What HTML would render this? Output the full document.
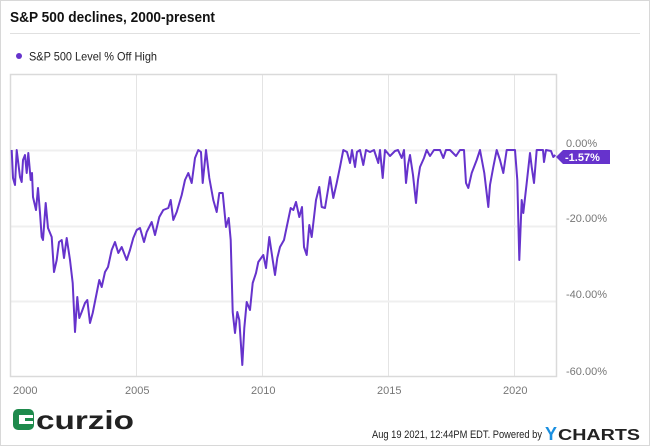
<!DOCTYPE html>
<html><head><meta charset="utf-8"><style>
body{margin:0;background:#fff;}
.w{position:relative;width:648px;height:444px;border:1px solid #d8d8d8;font-family:"Liberation Sans",sans-serif;overflow:hidden;}
</style></head><body><div class="w">
<svg width="650" height="446" viewBox="0 0 650 446" style="position:absolute;left:-1px;top:-1px">
<text x="10" y="22" font-size="15" font-weight="bold" fill="#111" textLength="205" lengthAdjust="spacingAndGlyphs">S&amp;P 500 declines, 2000-present</text>
<line x1="10" y1="33.5" x2="640" y2="33.5" stroke="#e0e0e0"/>
<circle cx="19" cy="56" r="3" fill="#6633cc"/>
<text x="29" y="60.5" font-size="12" fill="#222" textLength="128" lengthAdjust="spacingAndGlyphs">S&amp;P 500 Level % Off High</text>
<g stroke="#e4e4e4" stroke-width="1">
<line x1="136.5" y1="74" x2="136.5" y2="376"/><line x1="262.5" y1="74" x2="262.5" y2="376"/>
<line x1="388.5" y1="74" x2="388.5" y2="376"/><line x1="514.5" y1="74" x2="514.5" y2="376"/>
</g>
<g stroke="#efefef" stroke-width="2">
<line x1="10" y1="150.5" x2="556" y2="150.5"/><line x1="10" y1="226.5" x2="556" y2="226.5"/><line x1="10" y1="301.5" x2="556" y2="301.5"/>
</g>
<rect x="10.5" y="74.5" width="546" height="302" fill="none" stroke="#dadada" stroke-width="1.5"/>
<polyline fill="none" stroke="#6633cc" stroke-width="2" stroke-linejoin="round" points="11.7,150 13,178 15,185 16.7,150 20,177 21.7,182 23,160 25,155 26.7,173 28.3,153 30.7,180 32,173 33,197 36,210 38,188 40,213 41.7,237 43,240 45.7,203 48,228 51.7,237 54,272 56.7,260 59,242 61.7,240 64,258 66.7,238 70,260 72.7,283 75,332 77.3,297 79.3,318 81.7,312 85,303 87.3,300 90,323 92.7,313 96.7,293 99.3,280 101.7,287 105,272 108,267 111.7,250 115,242 118.3,253 121.7,247 126.7,260 130,250 133.3,238 136.7,230 140,228 144,242 146.7,232 151.7,222 155,235 159.3,217 163.3,210 168.3,208 170.7,200 173.3,220 176.7,212 181.7,195 185,180 188.3,173 191.7,183 195,158 198.3,150 201,152 202.7,183 206,150 209.3,178 213.3,200 216.7,212 219.3,193 222.7,193 226,227 228.7,218 230.7,240 232.7,312 235,333 237.3,312 239.3,320 242.3,365 244.3,328 246.7,302 250,310 252.7,283 256,273 258.3,262 263.3,255 266,268 269.3,237 272.7,260 275,275 277.3,258 280,247 284,240 286.7,227 290.7,208 293.3,210 296,202 299.3,217 302,207 304,247 306.7,255 309.3,225 311.7,237 316,200 319.3,187 321.7,207 325,208 328.3,188 330,177 333.3,198 336.7,183 340,167 343.3,150 347,152 350,163 352,150 355,167 357,152 360,150 363.3,165 366,150 370,152 374,150 378.3,163 380,150 382.7,178 385,150 390,156 395,151 398,150 401.7,158 404,150 406,183 408,165 410,155 413,175 416,203 418,180 420,167 424,158 426.7,150 430,156 434,150 440,150 443.3,158 446,150 450,150 456,156 460,150 464,150 466,183 468.3,188 471.7,173 476.7,160 480,150 484.3,173 488.3,207 490,185 493.3,167 496.7,150 500,160 503.3,173 506.7,150 515,150 517.3,180 519.3,260 521.7,200 523.3,213 526.7,183 530,153 531.7,167 534,183 536.7,150 543,150 544,162 546,150 551,151 553.3,157 555.3,155"/>
<text x="566" y="147" font-size="11" fill="#777">0.00%</text>
<path d="M556,157 L563,150 L610,150 L610,164 L563,164 Z" fill="#6633cc"/>
<text x="565" y="161" font-size="11" font-weight="bold" fill="#fff">-1.57%</text>
<text x="566" y="222" font-size="11" fill="#777">-20.00%</text>
<text x="566" y="298" font-size="11" fill="#777">-40.00%</text>
<text x="566" y="375" font-size="11" fill="#777">-60.00%</text>
<g font-size="11" fill="#777">
<text x="13" y="394">2000</text><text x="125" y="394">2005</text><text x="251" y="394">2010</text><text x="377" y="394">2015</text><text x="503" y="394">2020</text>
</g>
<rect x="13" y="409" width="21" height="21" rx="5" fill="#1e8a4c"/>
<rect x="19" y="415" width="14" height="9" fill="#fff"/>
<rect x="25" y="418" width="9" height="3" fill="#1e8a4c"/>
<text x="36" y="429" font-family="Liberation Sans,sans-serif" font-size="26" font-weight="bold" fill="#222" textLength="98" lengthAdjust="spacingAndGlyphs">curzio</text>
<text x="372" y="438" font-size="11" fill="#222" textLength="170" lengthAdjust="spacingAndGlyphs">Aug 19 2021, 12:44PM EDT.  Powered by</text>
<text x="545" y="440" font-size="18" font-weight="bold" fill="#1a8fe0">Y</text>
<text x="558" y="440" font-size="16" font-weight="bold" fill="#222" textLength="82" lengthAdjust="spacingAndGlyphs">CHARTS</text>
</svg>
</div></body></html>
